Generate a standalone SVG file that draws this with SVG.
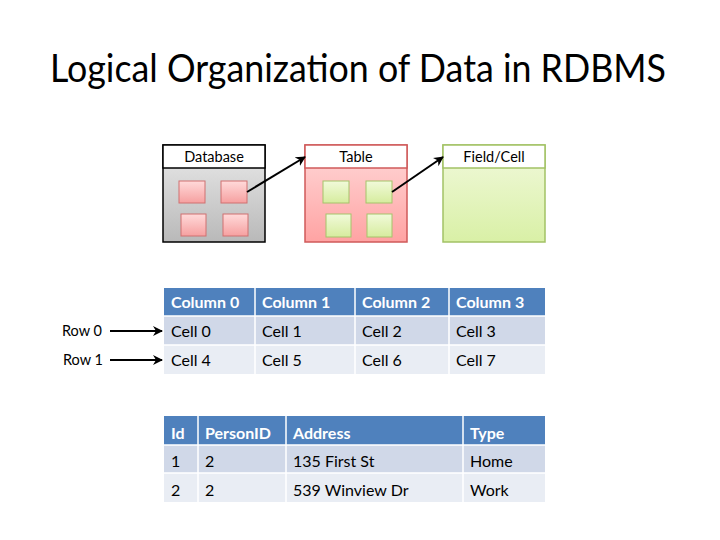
<svg xmlns="http://www.w3.org/2000/svg" width="720" height="540" viewBox="0 0 720 540">
  <defs>
    <style>
      text { font-family: Lato, "Open Sans", "Liberation Sans", sans-serif; fill: #000; }
      .title { font-size: 38px; }
      .lbl { font-size: 14.5px; }
      .hdr { font-size: 16px; font-weight: bold; fill: #fff; }
      .cell { font-size: 16px; }
      .th { fill: #4F81BD; }
      .r1 { fill: #D0D8E8; }
      .r2 { fill: #E9EDF4; }
      .grid { stroke: #fff; stroke-width: 1.5; fill: none; }
      .conn { stroke: #000; stroke-width: 2; fill: none; marker-end: url(#arrow); }
      .pink { fill: url(#gPinkSq); stroke: #D07070; stroke-width: 1; }
      .green { fill: url(#gGreenSq); stroke: #A6C36A; stroke-width: 1; }
    </style>
    <linearGradient id="gGray" x1="0" y1="0" x2="0" y2="1">
      <stop offset="0" stop-color="#EAEAEA"/>
      <stop offset="1" stop-color="#B9B9B9"/>
    </linearGradient>
    <linearGradient id="gPink" x1="0" y1="0" x2="0" y2="1">
      <stop offset="0" stop-color="#FFD9D9"/>
      <stop offset="1" stop-color="#FFA3A3"/>
    </linearGradient>
    <linearGradient id="gGreen" x1="0" y1="0" x2="0" y2="1">
      <stop offset="0" stop-color="#F1F9DC"/>
      <stop offset="1" stop-color="#D9F0A6"/>
    </linearGradient>
    <linearGradient id="gPinkSq" x1="0" y1="0" x2="0" y2="1">
      <stop offset="0" stop-color="#FFDADA"/>
      <stop offset="1" stop-color="#F6A0A0"/>
    </linearGradient>
    <linearGradient id="gGreenSq" x1="0" y1="0" x2="0" y2="1">
      <stop offset="0" stop-color="#F1FADA"/>
      <stop offset="1" stop-color="#D6EC9E"/>
    </linearGradient>
    <marker id="arrow" viewBox="0 0 10 10" refX="9" refY="5" markerWidth="10" markerHeight="10" markerUnits="userSpaceOnUse" orient="auto">
      <path d="M0,0 L10,5 L0,10 L3,5 Z" fill="#000"/>
    </marker>
  </defs>

  <rect width="720" height="540" fill="#fff"/>

  <text class="title" x="358" y="82" text-anchor="middle" textLength="616" lengthAdjust="spacingAndGlyphs">Logical Organization of Data in RDBMS</text>

  <!-- Database container with four pink tables -->
  <g id="database">
    <rect x="163" y="145" width="102" height="97" fill="url(#gGray)" stroke="#000" stroke-width="1.5"/>
    <rect x="163" y="145" width="102" height="23" fill="#fff" stroke="#000" stroke-width="1.5"/>
    <text class="lbl" x="214" y="162" text-anchor="middle">Database</text>
    <rect class="pink" x="179" y="181" width="26" height="22"/>
    <rect class="pink" x="221" y="181" width="26" height="22"/>
    <rect class="pink" x="181" y="214" width="25" height="22"/>
    <rect class="pink" x="223" y="214" width="25" height="22"/>
  </g>

  <!-- Table container with four green fields -->
  <g id="table">
    <rect x="305" y="145" width="102" height="97" fill="url(#gPink)" stroke="#CF5A5A" stroke-width="1.5"/>
    <rect x="305" y="145" width="102" height="23" fill="#fff" stroke="#CF5A5A" stroke-width="1.5"/>
    <text class="lbl" x="356" y="162" text-anchor="middle">Table</text>
    <rect class="green" x="323" y="181" width="26" height="22"/>
    <rect class="green" x="366" y="181" width="26" height="22"/>
    <rect class="green" x="326" y="214" width="25" height="23"/>
    <rect class="green" x="367" y="214" width="25" height="23"/>
  </g>

  <!-- Field/Cell container -->
  <g id="field">
    <rect x="443" y="145" width="102" height="97" fill="url(#gGreen)" stroke="#A2C265" stroke-width="1.5"/>
    <rect x="443" y="145" width="102" height="23" fill="#fff" stroke="#A2C265" stroke-width="1.5"/>
    <text class="lbl" x="494" y="162" text-anchor="middle">Field/Cell</text>
  </g>

  <!-- Grid of columns and cells -->
  <g id="grid-table">
    <rect class="th" x="164" y="288" width="381" height="28"/>
    <rect class="r1" x="164" y="316" width="381" height="29"/>
    <rect class="r2" x="164" y="345" width="381" height="29"/>
    <path class="grid" d="M164,316 H545 M164,345 H545 M255,288 V374 M355,288 V374 M449,288 V374"/>
    <text class="hdr" x="171" y="308">Column 0</text>
    <text class="hdr" x="262" y="308">Column 1</text>
    <text class="hdr" x="362" y="308">Column 2</text>
    <text class="hdr" x="456" y="308">Column 3</text>
    <text class="cell" x="171" y="337">Cell 0</text>
    <text class="cell" x="262" y="337">Cell 1</text>
    <text class="cell" x="362" y="337">Cell 2</text>
    <text class="cell" x="456" y="337">Cell 3</text>
    <text class="cell" x="171" y="366">Cell 4</text>
    <text class="cell" x="262" y="366">Cell 5</text>
    <text class="cell" x="362" y="366">Cell 6</text>
    <text class="cell" x="456" y="366">Cell 7</text>
  </g>

  <g id="row-labels">
    <text class="lbl" x="62" y="336">Row 0</text>
    <text class="lbl" x="63" y="365">Row 1</text>
  </g>

  <!-- Address records table -->
  <g id="address-table">
    <rect class="th" x="164" y="416" width="381" height="29"/>
    <rect class="r1" x="164" y="445" width="381" height="28"/>
    <rect class="r2" x="164" y="473" width="381" height="29"/>
    <path class="grid" d="M164,445 H545 M164,473 H545 M198,416 V502 M286,416 V502 M463,416 V502"/>
    <text class="hdr" x="171" y="439">Id</text>
    <text class="hdr" x="205" y="439">PersonID</text>
    <text class="hdr" x="293" y="439">Address</text>
    <text class="hdr" x="470" y="439">Type</text>
    <text class="cell" x="171" y="467">1</text>
    <text class="cell" x="205" y="467">2</text>
    <text class="cell" x="293" y="467">135 First St</text>
    <text class="cell" x="470" y="467">Home</text>
    <text class="cell" x="171" y="496">2</text>
    <text class="cell" x="205" y="496">2</text>
    <text class="cell" x="293" y="496">539 Winview Dr</text>
    <text class="cell" x="470" y="496">Work</text>
  </g>

  <g id="connectors">
    <line class="conn" x1="247" y1="192" x2="305" y2="157"/>
    <line class="conn" x1="392" y1="192" x2="443" y2="157"/>
    <line class="conn" x1="110" y1="331" x2="162" y2="331"/>
    <line class="conn" x1="110" y1="360" x2="162" y2="360"/>
  </g>
</svg>
